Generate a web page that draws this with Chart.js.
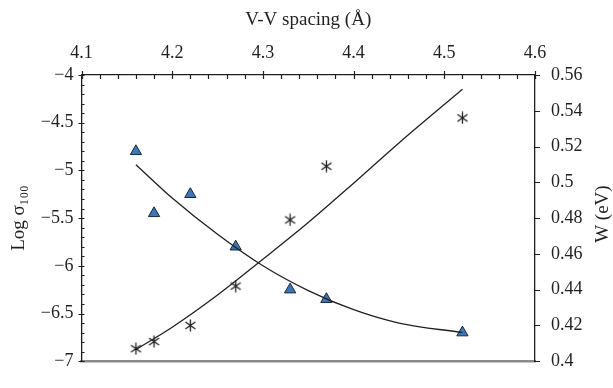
<!DOCTYPE html>
<html>
<head>
<meta charset="utf-8">
<script src="https://cdn.jsdelivr.net/npm/chart.js@4.4.0/dist/chart.umd.min.js"></script>
<style>
html, body { margin: 0; padding: 0; background: #fff; }
#wrap { width: 613px; height: 388px; }
</style>
</head>
<body>
<div id="wrap"><canvas id="c"></canvas></div>
<script>
// measured points
const spacing = [4.16, 4.18, 4.22, 4.27, 4.33, 4.37, 4.52];
const logSigma = [-4.80, -5.45, -5.25, -5.80, -6.25, -6.35, -6.70];
const energyW = [0.407, 0.411, 0.420, 0.442, 0.479, 0.509, 0.536];
// fitted curves
const fitSpacing = [4.16, 4.20, 4.25, 4.30, 4.35, 4.40, 4.45, 4.52];
const fitLogSigma = [-4.94, -5.29, -5.67, -6.00, -6.26, -6.46, -6.60, -6.70];
const fitW = [0.4065, 0.419, 0.437, 0.457, 0.4775, 0.4995, 0.522, 0.552];

const ink = '#231f20';
const serif = '"Liberation Serif", "DejaVu Serif", serif';
Chart.defaults.font.family = serif;
Chart.defaults.font.size = 18;
Chart.defaults.color = ink;

function pairs(xs, ys) {
    return xs.map((x, i) => {
        return { x: x, y: ys[i] };
    });
}

function makeStar() {
    const c = document.createElement('canvas');
    c.width = 13;
    c.height = 13;
    const g = c.getContext('2d');
    g.strokeStyle = ink;
    g.lineWidth = 1.3;
    g.beginPath();
    g.moveTo(6.5, 0.5); g.lineTo(6.5, 12.5);
    g.moveTo(1.5, 3); g.lineTo(11.5, 10);
    g.moveTo(11.5, 3); g.lineTo(1.5, 10);
    g.stroke();
    return c;
}

function minus(v) {
    return String(v).replace('-', '\u2212');
}

// tick marks drawn by hand: chart.js has no minor ticks
const axisTicks = {
    id: 'axisTicks',
    afterDraw(chart) {
        const ctx = chart.ctx;
        const s = chart.scales;
        const a = chart.chartArea;
        ctx.save();
        ctx.strokeStyle = ink;
        ctx.lineWidth = 1.2;
        ctx.beginPath();
        for (let i = 0; i <= 25; i++) {
            const x = Math.round(s.x2.getPixelForValue(4.1 + i * 0.02)) + 0.5;
            const major = i % 5 === 0;
            ctx.moveTo(x, a.top - (major ? 4 : 0));
            ctx.lineTo(x, a.top + 4);
        }
        for (let i = 0; i <= 30; i++) {
            const y = Math.round(s.y.getPixelForValue(-7 + i * 0.1)) + 0.5;
            const major = i % 5 === 0;
            ctx.moveTo(a.left - (major ? 3 : 0), y);
            ctx.lineTo(a.left + 3, y);
        }
        s.y2.ticks.forEach(t => {
            const y = Math.round(s.y2.getPixelForValue(t.value)) + 0.5;
            ctx.moveTo(a.right, y);
            ctx.lineTo(a.right + 5, y);
        });
        ctx.stroke();
        // right title reads bottom to top
        ctx.translate(603, (a.top + a.bottom) / 2 - 4);
        ctx.rotate(-Math.PI / 2);
        ctx.fillStyle = ink;
        ctx.font = '19px ' + serif;
        ctx.textAlign = 'center';
        ctx.textBaseline = 'middle';
        ctx.fillText('W (eV)', 0, 0);
        ctx.restore();
    }
};

new Chart(document.querySelector('#c'), {
    type: 'scatter',
    data: {
        datasets: [
            {
                label: 'Log sigma fit',
                data: pairs(fitSpacing, fitLogSigma),
                showLine: true,
                cubicInterpolationMode: 'monotone',
                borderColor: ink,
                borderWidth: 1.3,
                pointRadius: 0,
                yAxisID: 'y'
            },
            {
                label: 'W fit',
                data: pairs(fitSpacing, fitW),
                showLine: true,
                cubicInterpolationMode: 'monotone',
                borderColor: ink,
                borderWidth: 1.3,
                pointRadius: 0,
                yAxisID: 'y2'
            },
            {
                label: 'Log sigma',
                data: pairs(spacing, logSigma),
                pointStyle: 'triangle',
                pointRadius: 6.5,
                backgroundColor: '#3c77b9',
                borderColor: '#1d2633',
                borderWidth: 1,
                yAxisID: 'y'
            },
            {
                label: 'W',
                data: pairs(spacing, energyW),
                pointStyle: makeStar(),
                yAxisID: 'y2'
            }
        ]
    },
    options: {
        responsive: true,
        maintainAspectRatio: false,
        animation: false,
        layout: { padding: 0 },
        plugins: {
            legend: { display: false },
            tooltip: { enabled: false }
        },
        scales: {
            x: {
                type: 'linear',
                position: 'bottom',
                min: 4.1,
                max: 4.6,
                grid: { display: false, drawTicks: false },
                border: { color: '#8a8a8a', width: 2.5 },
                ticks: { display: false },
                afterFit: scale => { scale.height = 6; }
            },
            x2: {
                type: 'linear',
                position: 'top',
                min: 4.1,
                max: 4.6,
                grid: { display: false, drawTicks: false },
                border: { color: ink, width: 1.3 },
                ticks: {
                    stepSize: 0.1,
                    padding: 11,
                    callback: v => Number(v.toFixed(1)).toString()
                },
                title: {
                    display: true,
                    text: 'V-V spacing (\u00c5)',
                    font: { size: 19 },
                    padding: { top: 9, bottom: 0 }
                },
                afterFit: scale => { scale.height = 75; }
            },
            y: {
                position: 'left',
                min: -7,
                max: -4,
                grid: { display: false, drawTicks: false },
                border: { color: ink, width: 1.3 },
                ticks: {
                    stepSize: 0.5,
                    padding: 8,
                    callback: v => minus(Number(v.toFixed(1)))
                },
                title: {
                    display: true,
                    text: 'Log \u03c3\u2081\u2080\u2080',
                    font: { size: 19 },
                    padding: { top: 8, bottom: 0 }
                },
                afterFit: scale => { scale.width = 81.5; }
            },
            y2: {
                position: 'right',
                min: 0.4,
                max: 0.56,
                grid: { display: false, drawTicks: false },
                border: { color: ink, width: 1.3 },
                ticks: {
                    stepSize: 0.02,
                    padding: 16,
                    callback: v => Number(v.toFixed(2)).toString()
                },
                afterFit: scale => { scale.width = 78; }
            }
        }
    },
    plugins: [axisTicks]
});
</script>
</body>
</html>
